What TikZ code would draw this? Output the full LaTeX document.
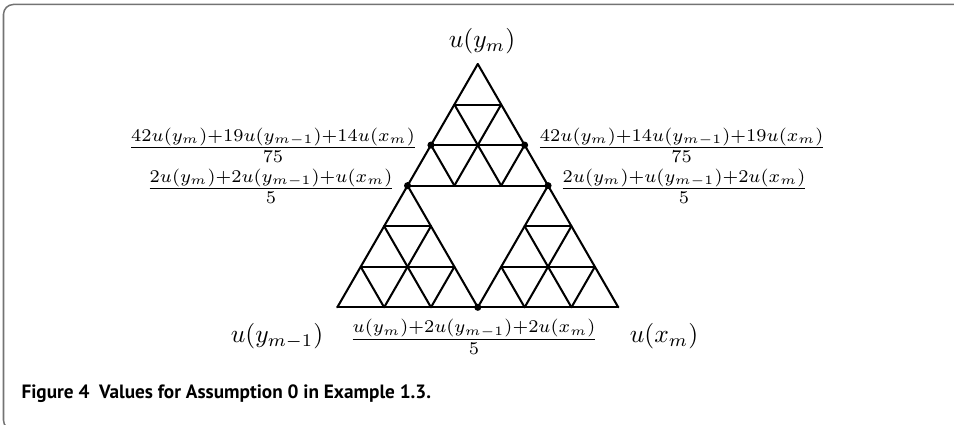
\documentclass[tikz,border=0pt]{standalone}
\usepackage{fontspec}
\newfontfamily\capfont{PT Sans}
\begin{document}
\begin{tikzpicture}[x=0.3664pt,y=-0.3664pt,
  tri/.style={line width=0.75pt, line join=round, line cap=round},
  dot/.style={circle,fill=black,inner sep=0pt,minimum size=2.6pt},
  lab/.style={inner sep=0pt, scale=0.935, transform shape},
  fracl/.style={inner sep=0pt, anchor=base, scale=0.94, transform shape},
  frame/.style={black!55, line width=0.55pt, rounded corners=3.6pt}]
\useasboundingbox (0,0) rectangle (954,424);
\draw[frame] (970,4.5) -- (3.5,4.5) -- (3.5,430) -- (60,430);
\begin{scope}[shift={(337.3,307.3)}, x={(17.158pt,0pt)}, y={(8.579pt,14.859pt)}]
  \foreach \a/\b in {0/0,3/0,0/3} {
    \foreach \k in {0,1,2} {
      \draw[tri] (\a,\b+\k) -- (\a+3-\k,\b+\k);
      \draw[tri] (\a+\k,\b) -- (\a+\k,\b+3-\k);
    }
    \foreach \k in {1,2,3} {
      \draw[tri] (\a+\k,\b) -- (\a,\b+\k);
    }
  }
  \node[dot] (pl4) at (0,4) {};
  \node[dot] (pr4) at (2,4) {};
  \node[dot] (pl3) at (0,3) {};
  \node[dot] (pr3) at (3,3) {};
  \node[dot] (pb) at (3,0) {};
\end{scope}
\node[lab] (top) at (482,41) {$u(y_m)$};
\node[lab] (lft) at (277,336) {$u(y_{m-1})$};
\node[lab] (rgt) at (664,336) {$u(x_m)$};
\node[fracl] (fb) at (474,345.5) {$\frac{u(y_m)+2u(y_{m-1})+2u(x_m)}{5}$};
\node[fracl] (fl1) at (273,153.8) {$\frac{42u(y_m)+19u(y_{m-1})+14u(x_m)}{75}$};
\node[fracl] (fl2) at (271,194.8) {$\frac{2u(y_m)+2u(y_{m-1})+u(x_m)}{5}$};
\node[fracl] (fr1) at (681.7,153.8) {$\frac{42u(y_m)+14u(y_{m-1})+19u(x_m)}{75}$};
\node[fracl] (fr2) at (684,194.8) {$\frac{2u(y_m)+u(y_{m-1})+2u(x_m)}{5}$};
\node[anchor=base west, inner sep=0pt] (cap) at (21,398) {\capfont\bfseries\fontsize{7.05}{8.5}\selectfont Figure 4\hspace{0.5em}Values for Assumption 0 in Example 1.3.};
\end{tikzpicture}
\end{document}
